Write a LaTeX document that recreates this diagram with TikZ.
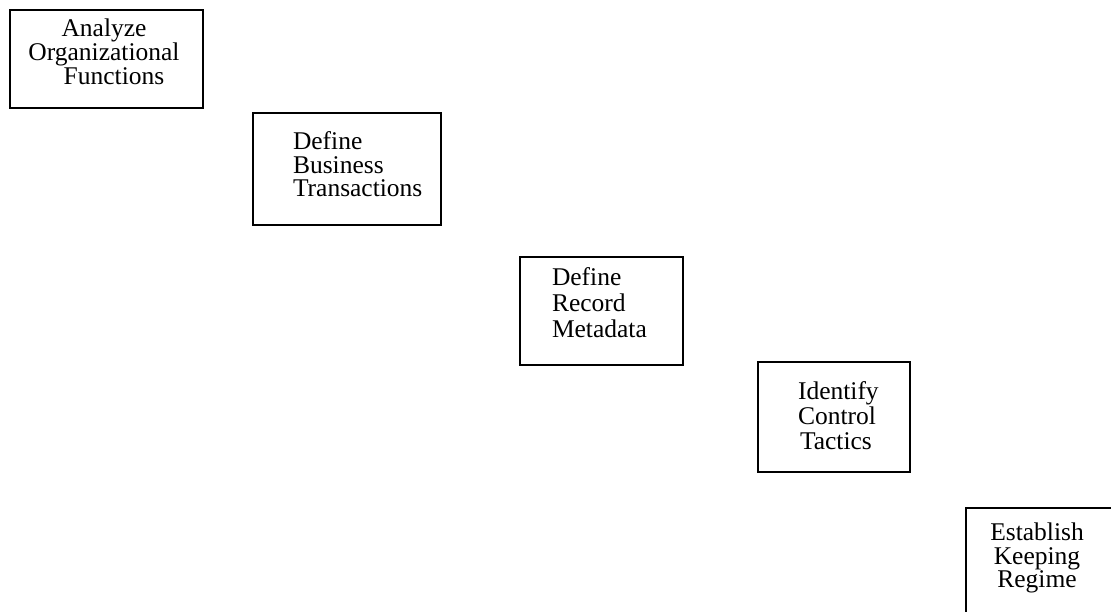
\documentclass[tikz,border=0pt]{standalone}
\usepackage{fontspec}
\setmainfont{Liberation Serif}
\begin{document}
\begin{tikzpicture}[x=1pt,y=-1pt,
  stagebox/.style={draw=black, line width=2.2pt, rectangle, inner sep=0pt, outer sep=0pt, anchor=north west},
  stagetext/.style={inner sep=0pt, outer sep=0pt, font=\fontsize{25.5}{24}\selectfont, text=black}
]
\useasboundingbox (0,0) rectangle (1111,611);
\clip (0,0) rectangle (1111,611);
% boxes
\node[stagebox, minimum width=193pt, minimum height=98pt] (box1) at (10,10) {};
\node[stagebox, minimum width=188pt, minimum height=112pt] (box2) at (253,113) {};
\node[stagebox, minimum width=163pt, minimum height=108pt] (box3) at (520,257) {};
\node[stagebox, minimum width=152pt, minimum height=110pt] (box4) at (758,362) {};
\node[stagebox, minimum width=220pt, minimum height=200pt] (box5) at (966,508) {};
% texts
\node[stagetext, align=center, anchor=north] (t1) at (104,19) {Analyze\\Organizational\\\hspace*{20pt}Functions};
\node[stagetext, align=left, anchor=north west, font=\fontsize{25.5}{23.5}\selectfont] (t2) at (293,132) {Define\\Business\\Transactions};
\node[stagetext, align=left, anchor=north west, font=\fontsize{25.5}{26}\selectfont] (t3) at (552,268) {Define\\Record\\Metadata};
\node[stagetext, align=left, anchor=north west, font=\fontsize{25.5}{25}\selectfont] (t4) at (798,382) {Identify\\Control\\\hspace*{2pt}Tactics};
\node[stagetext, align=center, anchor=north, font=\fontsize{25.5}{23.5}\selectfont] (t5) at (1037,523) {Establish\\Keeping\\Regime};
\end{tikzpicture}
\end{document}
